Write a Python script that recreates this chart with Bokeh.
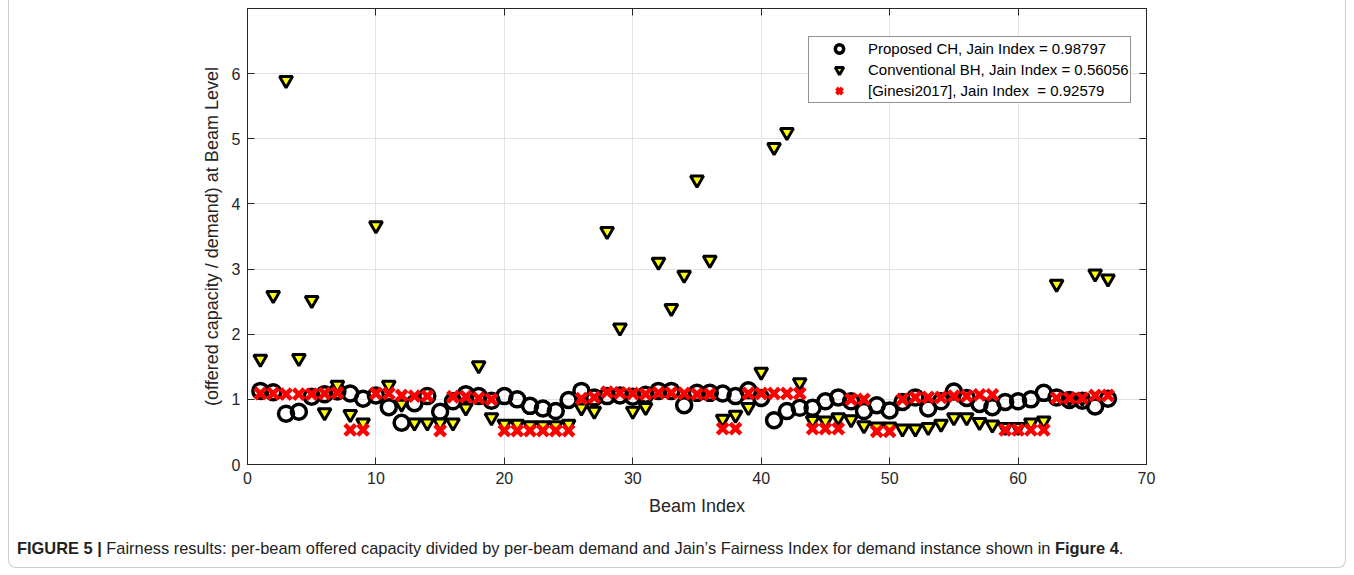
from bokeh.plotting import figure
from bokeh.layouts import column
from bokeh.models import Range1d, FixedTicker, LinearAxis, Legend, LegendItem, Div
from bokeh.embed import file_html
from bokeh.resources import INLINE

beams = list(range(1, 68))

proposed_ch = [1.13, 1.11, 0.78, 0.81, 1.04, 1.08, 1.12, 1.09, 1.01, 1.06,
               0.88, 0.64, 0.94, 1.05, 0.81, 0.97, 1.08, 1.05, 0.98, 1.05,
               1.00, 0.90, 0.86, 0.82, 0.99, 1.13, 1.03, 1.05, 1.06, 1.04,
               1.07, 1.13, 1.13, 0.91, 1.10, 1.10, 1.09, 1.05, 1.14, 1.02,
               0.68, 0.82, 0.87, 0.87, 0.97, 1.03, 0.97, 0.82, 0.91, 0.83,
               0.96, 1.03, 0.86, 0.97, 1.12, 1.02, 0.93, 0.88, 0.96, 0.97,
               1.00, 1.10, 1.03, 0.99, 0.98, 0.89, 1.01]

conventional_bh = [1.62, 2.60, 5.90, 1.63, 2.52, 0.80, 1.22, 0.77, 0.64, 3.67,
                   1.22, 0.93, 0.64, 0.64, 0.64, 0.64, 0.87, 1.52, 0.72, 0.62,
                   0.62, 0.60, 0.60, 0.60, 0.62, 0.87, 0.82, 3.58, 2.10, 0.82,
                   0.88, 3.11, 2.40, 2.91, 4.37, 3.14, 0.70, 0.76, 0.88, 1.42,
                   4.87, 5.10, 1.26, 0.68, 0.67, 0.72, 0.69, 0.60, 0.58, 0.58,
                   0.55, 0.55, 0.57, 0.62, 0.72, 0.72, 0.65, 0.61, 0.57, 0.57,
                   0.64, 0.67, 2.77, 1.02, 1.02, 2.93, 2.85]

ginesi2017 = [1.09, 1.09, 1.08, 1.08, 1.08, 1.09, 1.10, 0.53, 0.53, 1.09,
              1.09, 1.06, 1.05, 1.05, 0.52, 1.04, 1.04, 1.02, 1.00, 0.52,
              0.52, 0.52, 0.52, 0.52, 0.52, 1.01, 1.03, 1.11, 1.10, 1.09,
              1.08, 1.10, 1.10, 1.09, 1.08, 1.08, 0.55, 0.55, 1.09, 1.09,
              1.09, 1.09, 1.09, 0.55, 0.55, 0.55, 1.00, 1.00, 0.51, 0.51,
              1.00, 1.03, 1.03, 1.03, 1.05, 1.05, 1.07, 1.07, 0.53, 0.53,
              0.53, 0.53, 1.02, 1.02, 1.02, 1.06, 1.06]

x_ticks = [0, 10, 20, 30, 40, 50, 60, 70]
y_ticks = [0, 1, 2, 3, 4, 5, 6]

legend_labels = ["Proposed CH, Jain Index = 0.98797",
                 "Conventional BH, Jain Index = 0.56056",
                 "[Ginesi2017], Jain Index  = 0.92579"]

caption_html = ("<b>FIGURE 5 |</b> Fairness results: per-beam offered capacity divided by "
                "per-beam demand and Jain\u2019s Fairness Index for demand instance shown in "
                "<b>Figure 4</b>.")

FONT = "Liberation Sans"
AX = "#262626"

p = figure(width=1336, height=520, output_backend="svg", toolbar_location=None,
           x_range=Range1d(0, 70), y_range=Range1d(0, 7),
           min_border_left=238, min_border_right=199, min_border_top=8,
           min_border_bottom=56)

p.outline_line_color = AX
p.outline_line_width = 1
p.background_fill_color = "white"
p.border_fill_color = "white"

p.xaxis.ticker = FixedTicker(ticks=x_ticks)
p.yaxis.ticker = FixedTicker(ticks=y_ticks)
for ax in (p.xaxis[0], p.yaxis[0]):
    ax.axis_line_color = AX
    ax.major_tick_line_color = AX
    ax.major_tick_in = 7
    ax.major_tick_out = 0
    ax.minor_tick_line_color = None
    ax.major_label_text_font = FONT
    ax.major_label_text_font_size = "16px"
    ax.major_label_text_color = AX
    ax.axis_label_text_font = FONT
    ax.axis_label_text_font_size = "18px"
    ax.axis_label_text_font_style = "normal"
    ax.axis_label_text_color = AX

p.xaxis.axis_label = "Beam Index"
p.yaxis.axis_label = "(offered capacity / demand) at Beam Level"
p.xaxis.major_label_standoff = 7
p.xaxis.axis_label_standoff = 9
p.yaxis.major_label_standoff = 7
p.yaxis.axis_label_standoff = 7

for loc, tk in (("right", y_ticks), ("above", x_ticks)):
    extra = LinearAxis(ticker=FixedTicker(ticks=tk), major_label_text_font_size="1px",
                       major_label_text_color=None, major_label_standoff=0,
                       major_tick_in=7, major_tick_out=0,
                       minor_tick_line_color=None, axis_line_color=AX,
                       major_tick_line_color=AX)
    p.add_layout(extra, loc)

p.xgrid.grid_line_color = "#e3e3e3"
p.ygrid.grid_line_color = "#e3e3e3"

p.scatter(beams, proposed_ch, marker="circle", size=15, fill_color=None,
          line_color="black", line_width=3.5)
p.scatter(beams, conventional_bh, marker="inverted_triangle", size=13,
          fill_color="#ffff00", line_color="black", line_width=3)
p.scatter(beams, ginesi2017, marker="x", size=15, line_color="#ff0000",
          line_width=4.5)

# legend-only renderers (a single NaN point, so nothing is drawn in the plot)
nan = [float("nan")]
l1 = p.scatter(nan, nan, marker="circle", fill_color=None, line_color="black",
               line_width=3.5)
l2 = p.scatter(nan, nan, marker="inverted_triangle", fill_color="#ffff00",
               line_color="black", line_width=3)
l3 = p.scatter(nan, nan, marker="x", line_color="#ff0000", line_width=4)

legend = Legend(items=[LegendItem(label=legend_labels[0], renderers=[l1]),
                       LegendItem(label=legend_labels[1], renderers=[l2]),
                       LegendItem(label=legend_labels[2], renderers=[l3])],
                location=(561, 361), glyph_width=58, glyph_height=21,
                label_height=21, label_standoff=0, padding=1, spacing=0,
                margin=0, border_line_color=AX, border_line_width=1,
                background_fill_color="white", background_fill_alpha=1,
                label_text_font=FONT, label_text_font_size="15px",
                label_text_color="black")
p.add_layout(legend)

caption = Div(text=("<div style=\"font-family:'Liberation Sans',Arial,sans-serif;"
                    "font-size:16.4px;line-height:18px;color:#222222;white-space:nowrap;"
                    "padding:19px 0 0 8px;margin:0;\">" + caption_html + "</div>"),
              width=1336, height=47, margin=0)

layout = column(p, caption, spacing=0,
                styles={"margin-left": "8px",
                        "border-left": "1px solid #cccccc",
                        "border-right": "1px solid #cccccc",
                        "border-bottom": "1px solid #cccccc",
                        "border-bottom-left-radius": "8px",
                        "border-bottom-right-radius": "8px"})

open("out.html", "w").write(file_html(layout, INLINE))
